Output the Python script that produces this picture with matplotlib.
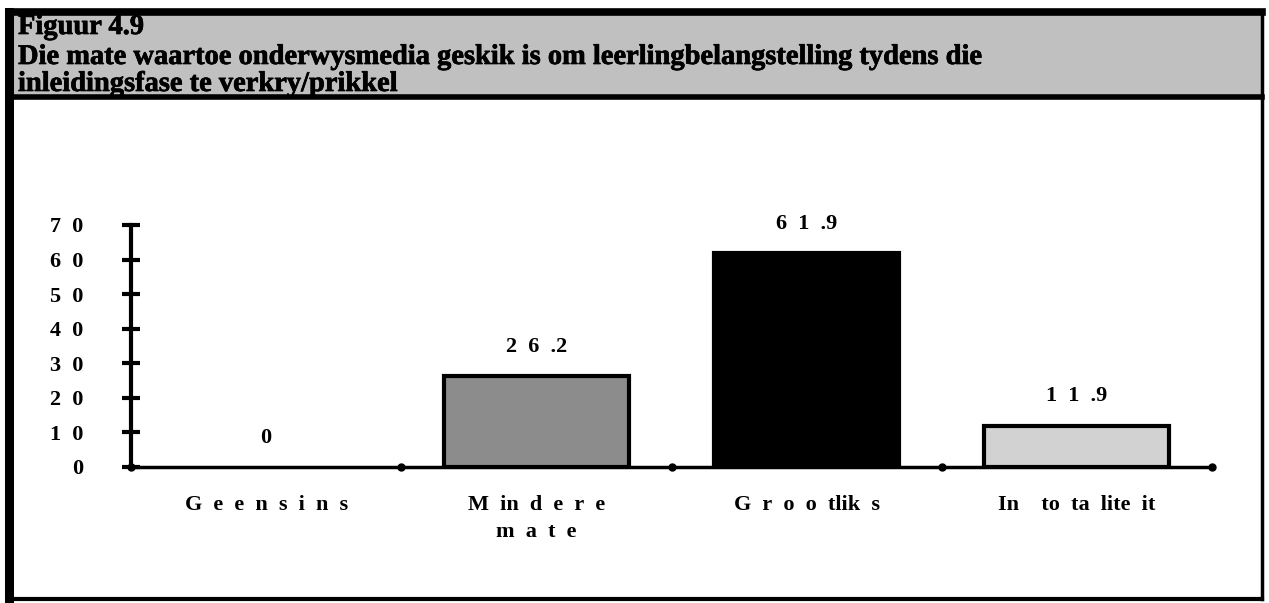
import matplotlib
matplotlib.use("Agg")
import matplotlib.pyplot as plt
from matplotlib.patches import Rectangle
import matplotlib.patheffects as pe

S = "\u2002"
categories = ["G e e n s i n s", "M in d e r e\nm a t e", "G r o o tlik s", "In  to ta lite it"]
values = [0, 26.2, 61.9, 11.9]
value_labels = ["0", "2 6 .2", "6 1 .9", "1 1 .9"]
yticks = [0, 10, 20, 30, 40, 50, 60, 70]
ytick_labels = ["0", "1 0", "2 0", "3 0", "4 0", "5 0", "6 0", "7 0"]
bar_colors = ["white", "#8c8c8c", "black", "#d2d2d2"]
title_lines = ["Figuur 4.9",
               "Die mate waartoe onderwysmedia geskik is om leerlingbelangstelling tydens die",
               "inleidingsfase te verkry/prikkel"]

def spaced(s):
    return s.replace(" ", S)

W, H = 1269, 603
fig = plt.figure(figsize=(W / 100, H / 100), dpi=100)
fig.patch.set_facecolor("white")

def fx(px):
    return px / W

def fy(py):
    return 1 - py / H

serif = ["Liberation Serif", "DejaVu Serif"]
bold_fx = [pe.withStroke(linewidth=0.5, foreground="black")]

# Header box
fig.patches.append(Rectangle((fx(6), fy(98)), fx(1262) - fx(6), fy(9) - fy(98),
                             transform=fig.transFigure, facecolor="#c0c0c0",
                             edgecolor="none", zorder=0))

def fline(x0, y0, x1, y1, lw):
    fig.lines.append(plt.Line2D([fx(x0), fx(x1)], [fy(y0), fy(y1)],
                                transform=fig.transFigure, color="black",
                                linewidth=lw, solid_capstyle="projecting"))

# Frame
fline(9, 11.5, 1262, 11.5, 5.5)   # top
fline(9, 11.5, 9, 599, 6.5)       # left
fline(1262, 11.5, 1262, 599, 2.5) # right
fline(9, 599, 1262, 599, 3.0)     # bottom
fline(9, 97, 1262, 97, 4.0)       # header bottom

title_y = [34, 64, 91]
for t, yy in zip(title_lines, title_y):
    fig.text(fx(18), fy(yy), t, fontsize=20.5, fontweight="bold", family=serif,
             va="baseline", ha="left", color="black", path_effects=bold_fx)

# Axes
ax = fig.add_axes([fx(131), fy(467), fx(1212) - fx(131), fy(225) - fy(467)])
ax.set_xlim(0, 4)
ax.set_ylim(0, 70)
x = [0.5, 1.5, 2.5, 3.5]
edge_w = [0 if v == 0 else 3 for v in values]
ax.bar(x, values, width=0.685, color=bar_colors, edgecolor="black", linewidth=edge_w, zorder=3)
for xi, v, lab in zip(x, values, value_labels):
    ax.annotate(spaced(lab), (xi, v), xytext=(0, 14), textcoords="offset points",
                ha="center", va="bottom", fontsize=16, fontweight="bold", family=serif)

for s in ["top", "right"]:
    ax.spines[s].set_visible(False)
ax.spines["left"].set_linewidth(3)
ax.spines["bottom"].set_linewidth(2.5)
ax.set_yticks(yticks)
ax.set_yticklabels([spaced(t) for t in ytick_labels], fontsize=16, fontweight="bold", family=serif)
ax.tick_params(axis="y", direction="inout", length=13, width=3, pad=28)
ax.set_xticks(x)
ax.set_xticklabels([spaced(c) for c in categories], fontsize=16, fontweight="bold",
                   family=serif, linespacing=1.5, va="top")
ax.tick_params(axis="x", length=0, pad=20)
ax.plot([0, 1, 2, 3, 4], [0, 0, 0, 0, 0], "o", color="black", markersize=5,
        clip_on=False, zorder=5)

fig.savefig("out.png", dpi=100)
